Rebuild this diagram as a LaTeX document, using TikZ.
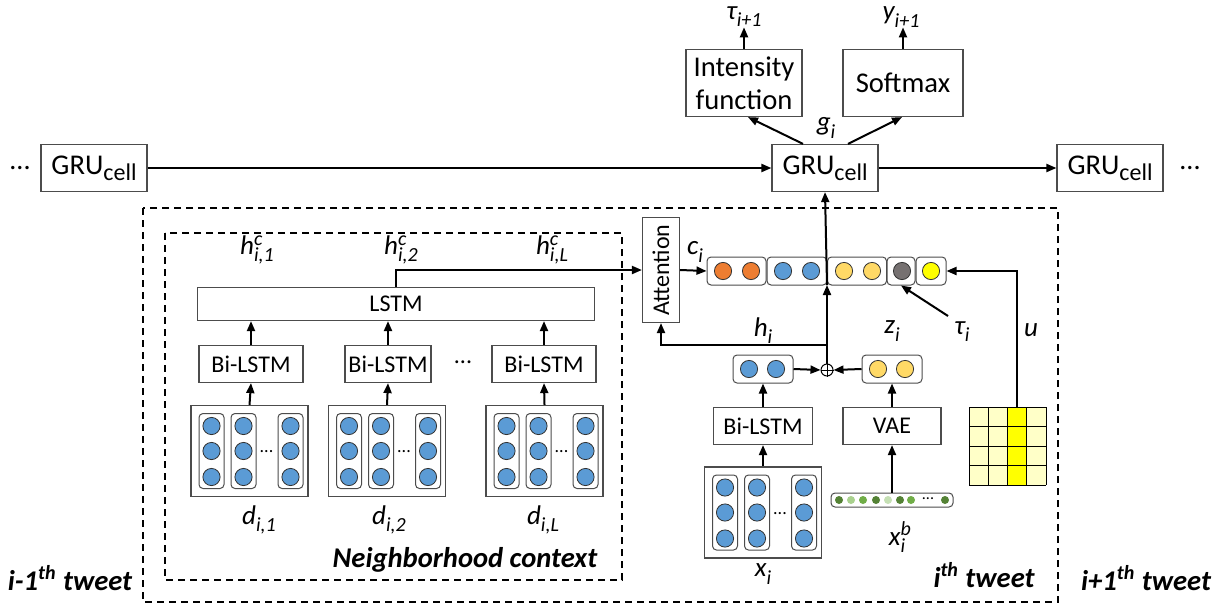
\documentclass[tikz,border=0pt]{standalone}
\usepackage{fontspec}
\setmainfont{Carlito}
\usepackage{xcolor}
\usetikzlibrary{arrows.meta}

\definecolor{orangeball}{HTML}{ED7D31}
\definecolor{blueball}{HTML}{5B9BD5}
\definecolor{amberball}{HTML}{FFD966}
\definecolor{grayball}{HTML}{767171}
\definecolor{yellowball}{HTML}{FFFF00}
\definecolor{gridyellow}{HTML}{FFFFC8}
\definecolor{greendark}{HTML}{548235}
\definecolor{greenmid}{HTML}{70AD47}
\definecolor{greenlight}{HTML}{A9D18E}
\definecolor{greenpale}{HTML}{C5E0B4}

\newcommand{\cellsub}{\raisebox{-0.45ex}{\fontsize{12}{12}\selectfont cell}}
\newcommand{\lsub}[1]{\raisebox{-0.55ex}{\fontsize{10}{10}\selectfont #1}}
\newcommand{\lsupsub}[2]{\rlap{\raisebox{0.75ex}{\fontsize{10}{10}\selectfont #1}}\raisebox{-0.55ex}{\fontsize{10}{10}\selectfont #2}}
\newcommand{\tokdoc}[3]{%
    \node[box, minimum width=58.5pt, minimum height=45.5pt] (#1) at (#2,#3) {};
    \foreach \dx in {-38,-6,41} {
        \node[segbox, minimum width=12.5pt, minimum height=37.5pt] at ({#2+\dx},#3) {};
        \foreach \dy in {-25,0,26}
            \node[ball, fill=blueball] at ({#2+\dx},{#3+\dy}) {};
    }
    \node[font=\fontsize{9}{9}\selectfont, inner sep=0pt] at ({#2+17},{#3+1}) {...};
}

\begin{document}
\begin{tikzpicture}[x=0.5pt, y=-0.5pt,
        box/.style={draw=black!70, fill=white, line width=0.6pt, inner sep=0pt, align=center,
            font=\fontsize{12}{14}\selectfont},
        bigbox/.style={box, font=\fontsize{14.3}{16.5}\selectfont},
        segbox/.style={rounded corners=2pt, draw=black!70, line width=0.5pt, fill=white, inner sep=0pt},
        arr/.style={-{Triangle[length=5pt,width=4pt]}, line width=1pt},
        lbl/.style={font=\fontsize{13.5}{14}\selectfont\itshape, inner sep=0pt},
        tweet/.style={font=\fontsize{14.3}{16}\selectfont\bfseries\itshape, inner sep=0pt},
        frame/.style={dash pattern=on 3.5pt off 2.5pt, line width=0.7pt},
        ball/.style={circle, draw=black!80, line width=0.4pt, minimum size=8.6pt, inner sep=0pt},
        seed/.style={circle, minimum size=4pt, inner sep=0pt}]
    \useasboundingbox (0,0) rectangle (1224,610);

    \draw[frame] (143,208) rectangle (1058,602);
    \draw[frame] (165,233) rectangle (622,580);

    \node[bigbox, minimum width=53pt, minimum height=23.5pt] (gru-prev) at (94,168) {GRU\cellsub};
    \node[bigbox, minimum width=53pt, minimum height=23.5pt] (gru)      at (825,168) {GRU\cellsub};
    \node[bigbox, minimum width=53pt, minimum height=23.5pt] (gru-next) at (1110,168) {GRU\cellsub};
    \node[font=\fontsize{14}{14}\selectfont] (dots-prev) at (20,168) {...};
    \node[font=\fontsize{14}{14}\selectfont] (dots-next) at (1190,168) {...};
    \node[bigbox, minimum width=58pt, minimum height=33.5pt] (intensity) at (744,83) {Intensity\\function};
    \node[bigbox, minimum width=60pt, minimum height=33.5pt] (softmax)   at (903,83) {Softmax};
    \node[lbl] (tau-next) at (744,17) {τ\lsub{i+1}};
    \node[lbl] (y-next)   at (901,17) {y\lsub{i+1}};
    \node[lbl] (g-i)      at (826,128) {g\lsub{i}};

    \node[box, minimum width=198.5pt, minimum height=16.5pt] (lstm) at (396,304) {LSTM};
    \node[box, minimum width=52pt, minimum height=18.5pt] (bilstm-1) at (251,364) {Bi-LSTM};
    \node[box, minimum width=43pt, minimum height=18.5pt] (bilstm-2) at (388,364) {Bi-LSTM};
    \node[box, minimum width=52pt, minimum height=18.5pt] (bilstm-L) at (544,364) {Bi-LSTM};
    \node[font=\fontsize{12}{12}\selectfont] (dots-bilstm) at (463,362) {...};
    \tokdoc{doc-1}{249.5}{451}
    \tokdoc{doc-2}{387}{451}
    \tokdoc{doc-L}{544.5}{451}
    \node[lbl] (d-1) at (259,520) {d\lsub{i,1}};
    \node[lbl] (d-2) at (389,520) {d\lsub{i,2}};
    \node[lbl] (d-L) at (543,520) {d\lsub{i,L}};
    \node[lbl] (h-1) at (257,250) {h\lsupsub{c}{i,1}};
    \node[lbl] (h-2) at (401,250) {h\lsupsub{c}{i,2}};
    \node[lbl] (h-L) at (552,250) {h\lsupsub{c}{i,L}};
    \node[tweet] (nb-ctx) at (465,560) {Neighborhood context};

    \node[box, rotate=90, minimum width=52.5pt, minimum height=18.5pt] (attention) at (661,270) {Attention};
    \node[segbox, minimum width=29.5pt, minimum height=14pt] (seg-orange) at (736.5,271) {};
    \node[segbox, minimum width=30pt, minimum height=14pt]   (seg-blue)   at (797,271) {};
    \node[segbox, minimum width=29.5pt, minimum height=14pt] (seg-amber)  at (857,271) {};
    \node[segbox, minimum width=14pt, minimum height=14pt]   (seg-gray)   at (901,271) {};
    \node[segbox, minimum width=15pt, minimum height=14pt]   (seg-yellow) at (931,271) {};
    \node[ball, fill=orangeball] at (723,271) {};
    \node[ball, fill=orangeball] at (751,271) {};
    \node[ball, fill=blueball]   at (783,271) {};
    \node[ball, fill=blueball]   at (811,271) {};
    \node[ball, fill=amberball]  at (844,271) {};
    \node[ball, fill=amberball]  at (872,271) {};
    \node[ball, fill=grayball]   at (902,271) {};
    \node[ball, fill=yellowball] at (931,271) {};
    \node[lbl] (c-i) at (695,252) {c\lsub{i}};
    \coordinate (vec-in) at (827,285);

    \node[circle, draw, line width=0.5pt, minimum size=6pt, inner sep=0pt] (plus) at (827,370) {};
    \draw[line width=0.5pt] (plus.north) -- (plus.south) (plus.west) -- (plus.east);
    \coordinate (h-split) at (827,345);
    \node[segbox, minimum width=30pt, minimum height=14pt] (hvec) at (763,369) {};
    \node[ball, fill=blueball] at (749,369) {};
    \node[ball, fill=blueball] at (776,369) {};
    \node[segbox, minimum width=30pt, minimum height=14pt] (zvec) at (892,369) {};
    \node[ball, fill=amberball] at (878,369) {};
    \node[ball, fill=amberball] at (905,369) {};
    \node[lbl] (h-i) at (763,331) {h\lsub{i}};
    \node[lbl] (z-i) at (892,331) {z\lsub{i}};
    \node[lbl] (tau-i) at (962,332) {τ\lsub{i}};
    \coordinate (tau-src) at (948,316);

    \node[box, minimum width=49.5pt, minimum height=18.5pt] (bilstm-x) at (763,426) {Bi-LSTM};
    \node[box, minimum width=49pt, minimum height=18.5pt]   (vae)      at (892,426) {VAE};
    \tokdoc{doc-x}{763}{512.5}
    \node[lbl] (x-i) at (763,574) {x\lsub{i}};

    \node[segbox, minimum width=61pt, minimum height=7pt] (bow) at (892,500) {};
    \node[seed, fill=greendark]  at (839,500) {};
    \node[seed, fill=greenlight] at (851,500) {};
    \node[seed, fill=greenmid]   at (863,500) {};
    \node[seed, fill=greendark]  at (876,500) {};
    \node[seed, fill=greenpale]  at (888,500) {};
    \node[seed, fill=greendark]  at (900,500) {};
    \node[seed, fill=greenmid]   at (911,500) {};
    \node[font=\fontsize{8}{8}\selectfont, inner sep=0pt] at (928,499) {...};
    \node[seed, fill=greendark]  at (945,500) {};
    \node[lbl] (x-b) at (897,537) {x\lsupsub{b}{i}};

    \fill[gridyellow] (969,407) rectangle (1046,485);
    \fill[yellowball] (1007.5,407) rectangle (1026.75,485);
    \foreach \k in {0,...,4} {
        \draw[line width=0.5pt] ({969+\k*19.25},407) -- ({969+\k*19.25},485);
        \draw[line width=0.5pt] (969,{407+\k*19.5}) -- (1046,{407+\k*19.5});
    }
    \coordinate (u-src) at (1017,407);
    \node[lbl] (u-lbl) at (1031,330) {u};

    \node[tweet] (tweet-prev) at (70,578) {i-1\textsuperscript{th} tweet};
    \node[tweet] (tweet-cur)  at (984,575) {i\textsuperscript{th} tweet};
    \node[tweet] (tweet-next) at (1146,578) {i+1\textsuperscript{th} tweet};

    \draw[arr] (gru-prev.east) -- (gru.west);
    \draw[arr] (gru.east) -- (gru-next.west);
    \draw[arr] ([xshift=-11pt]gru.north) -- ([xshift=2pt]intensity.south);
    \draw[arr] ([xshift=11.5pt]gru.north) -- ([xshift=-0.5pt]softmax.south);
    \draw[arr] (intensity.north) -- (tau-next.south);
    \draw[arr] (softmax.north) -- (softmax.north |- y-next.south);

    \draw[arr] (doc-1.north) -- (bilstm-1.south);
    \draw[arr] (doc-2.north) -- (bilstm-2.south);
    \draw[arr] (doc-L.north) -- (bilstm-L.south);
    \draw[arr] (bilstm-1.north) -- (bilstm-1.north |- lstm.south);
    \draw[arr] (bilstm-2.north) -- (bilstm-2.north |- lstm.south);
    \draw[arr] (bilstm-L.north) -- (bilstm-L.north |- lstm.south);
    \draw[arr] (lstm.north) |- (attention.north);
    \draw[arr] (attention.south) -- (seg-orange.west);

    \draw[arr] (doc-x.north) -- (bilstm-x.south);
    \draw[arr] (bilstm-x.north) -- (hvec.south);
    \draw[arr] (bow.north -| vae.south) -- (vae.south);
    \draw[arr] (vae.north) -- (zvec.south);
    \draw[arr] (hvec.east) -- (plus.west);
    \draw[arr] (zvec.west) -- (plus.east);
    \draw[arr] (plus.north) -- (vec-in);
    \draw[arr] (vec-in) -- (gru.south);
    \draw[arr] (h-split) -| (attention.west);
    \draw[arr] (tau-src) -- (seg-gray.south);
    \draw[arr] (u-src) |- (seg-yellow.east);
\end{tikzpicture}
\end{document}
